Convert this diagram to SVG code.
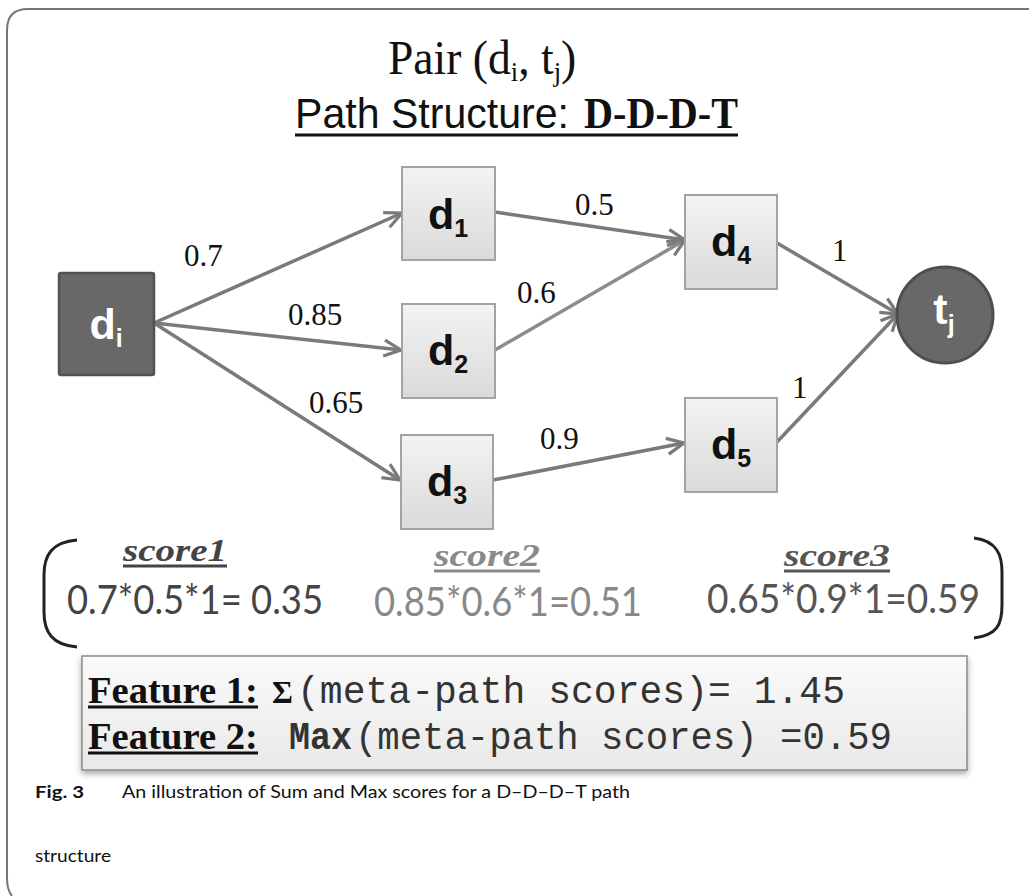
<svg xmlns="http://www.w3.org/2000/svg" width="1029" height="896" viewBox="0 0 1029 896">
<style>
.frame{fill:none;stroke:#777;stroke-width:2}
.lnode{fill:url(#lg);stroke:#a3a3a3;stroke-width:2}
.dnode{fill:#686868;stroke:#515151;stroke-width:2.5}
.lbl{font-family:"Liberation Sans",Arial,sans-serif;font-weight:bold;font-size:43px;fill:#111;text-anchor:middle}
.wl{fill:#fff}
.sub{font-size:25px}
.edge{stroke:#7a7a7a;stroke-width:3.5;fill:none;marker-end:url(#ah)}
.w{font-family:"Liberation Serif","Times New Roman",serif;font-size:31px;fill:#111}
.sc{font-family:"Liberation Serif","Times New Roman",serif;font-weight:bold;font-style:italic;font-size:32px}
.fm{font-family:Lato,"Liberation Sans",sans-serif;font-size:40px}
.mono{font-family:"Liberation Mono","Courier New",monospace;font-size:38px;fill:#333}
.feat{font-family:"Liberation Serif","Times New Roman",serif;font-weight:bold;font-size:37px;fill:#111}
.cap{font-family:Lato,"Open Sans",sans-serif;font-size:17px;fill:#111}
</style>
<defs>
<linearGradient id="lg" x1="0" y1="0" x2="0" y2="1">
<stop offset="0" stop-color="#f3f3f3"/>
<stop offset="1" stop-color="#dadada"/>
</linearGradient>
<linearGradient id="fg" x1="0" y1="0" x2="0" y2="1">
<stop offset="0" stop-color="#fafafa"/>
<stop offset="1" stop-color="#e9e9e9"/>
</linearGradient>
<filter id="sh" x="-5%" y="-10%" width="110%" height="130%">
<feDropShadow dx="0" dy="3" stdDeviation="3" flood-color="#000" flood-opacity="0.35"/>
</filter>
<marker id="ah" viewBox="0 0 22 22" refX="20" refY="11" markerWidth="22" markerHeight="22" markerUnits="userSpaceOnUse" orient="auto">
<path d="M3,3 L20,11 L3,19" fill="none" stroke="#7a7a7a" stroke-width="3.2" stroke-linejoin="miter"/>
</marker>
</defs>
<rect width="1029" height="896" fill="#fff"/>
<path class="frame" d="M1029,9 H28 Q7,9 7,30 V878 Q7,890 12,896"/>

<g id="title">
<g transform="translate(388,74) scale(0.95,1)" font-family="'Liberation Serif','Times New Roman',serif" fill="#111">
<text x="0" y="0" font-size="48">Pair (d<tspan font-size="28" dy="7">i</tspan><tspan dy="-7">, t</tspan><tspan font-size="28" dy="7">j</tspan><tspan dy="-7">)</tspan></text>
</g>
<text x="295" y="128" font-family="'Liberation Sans',Arial,sans-serif" font-size="43" fill="#111" textLength="274" lengthAdjust="spacingAndGlyphs">Path Structure:</text>
<text x="584" y="128" font-family="'Liberation Serif','Times New Roman',serif" font-weight="bold" font-size="44" fill="#111" textLength="154" lengthAdjust="spacingAndGlyphs">D-D-D-T</text>
<line x1="295" y1="135" x2="738" y2="135" stroke="#111" stroke-width="3"/>
</g>

<g id="connectors">
<line class="edge" x1="154" y1="323" x2="402" y2="213"/>
<line class="edge" x1="154" y1="323" x2="401" y2="350"/>
<line class="edge" x1="154" y1="323" x2="400" y2="480"/>
<line class="edge" x1="495" y1="212" x2="685" y2="240"/>
<line class="edge" x1="495" y1="350" x2="685" y2="240" style="stroke:#8c8c8c"/>
<line class="edge" x1="493" y1="480" x2="684" y2="443"/>
<line class="edge" x1="777" y1="243" x2="898" y2="314"/>
<line class="edge" x1="777" y1="442" x2="898" y2="314"/>
<text class="w" x="184" y="266">0.7</text>
<text class="w" x="288" y="325">0.85</text>
<text class="w" x="309" y="413">0.65</text>
<text class="w" x="575" y="215">0.5</text>
<text class="w" x="517" y="303">0.6</text>
<text class="w" x="540" y="449">0.9</text>
<text class="w" x="832" y="261">1</text>
<text class="w" x="792" y="398">1</text>
</g>

<g id="node-di">
<rect class="dnode" x="59" y="273" width="95" height="102" rx="2"/>
<text class="lbl wl" x="106" y="339">d<tspan class="sub" dy="8">i</tspan></text>
</g>
<g id="node-d1">
<rect class="lnode" x="402" y="167" width="93" height="93"/>
<text class="lbl" x="448" y="229">d<tspan class="sub" dy="8">1</tspan></text>
</g>
<g id="node-d2">
<rect class="lnode" x="402" y="304" width="93" height="94"/>
<text class="lbl" x="448" y="365">d<tspan class="sub" dy="8">2</tspan></text>
</g>
<g id="node-d3">
<rect class="lnode" x="401" y="435" width="92" height="94"/>
<text class="lbl" x="447" y="496">d<tspan class="sub" dy="8">3</tspan></text>
</g>
<g id="node-d4">
<rect class="lnode" x="685" y="195" width="92" height="94"/>
<text class="lbl" x="731" y="256">d<tspan class="sub" dy="8">4</tspan></text>
</g>
<g id="node-d5">
<rect class="lnode" x="685" y="398" width="92" height="94"/>
<text class="lbl" x="731" y="459">d<tspan class="sub" dy="8">5</tspan></text>
</g>
<g id="node-tj">
<circle cx="945" cy="315" r="48" fill="#686868" stroke="#4f4f4f" stroke-width="3"/>
<text class="lbl wl" x="944" y="324">t<tspan class="sub" dy="9">j</tspan></text>
</g>

<g id="scores">
<path d="M77,540 C52,542 44,555 44,575 L44,612 C44,632 52,645 77,647" fill="none" stroke="#222" stroke-width="3"/>
<path d="M974,538 C997,541 1002,555 1002,572 L1002,605 C1002,625 997,635 974,638" fill="none" stroke="#222" stroke-width="3"/>
<text class="sc" x="123" y="561" fill="#444" textLength="104" lengthAdjust="spacingAndGlyphs">score1</text>
<line x1="123" y1="566" x2="227" y2="566" stroke="#444" stroke-width="3"/>
<text class="sc" x="434" y="566" fill="#8a8a8a" textLength="106" lengthAdjust="spacingAndGlyphs">score2</text>
<line x1="434" y1="571" x2="540" y2="571" stroke="#8a8a8a" stroke-width="3"/>
<text class="sc" x="784" y="566" fill="#555" textLength="106" lengthAdjust="spacingAndGlyphs">score3</text>
<line x1="784" y1="571" x2="890" y2="571" stroke="#555" stroke-width="3"/>
<text class="fm" x="67" y="614" fill="#444" textLength="256" lengthAdjust="spacingAndGlyphs">0.7*0.5*1= 0.35</text>
<text class="fm" x="374" y="616" fill="#888" textLength="268" lengthAdjust="spacingAndGlyphs">0.85*0.6*1=0.51</text>
<text class="fm" x="707" y="613" fill="#555" textLength="273" lengthAdjust="spacingAndGlyphs">0.65*0.9*1=0.59</text>
</g>

<g id="features">
<rect x="82" y="656" width="885" height="114" fill="url(#fg)" stroke="#8a8a8a" stroke-width="1.5" filter="url(#sh)"/>
<text class="feat" x="88" y="703" textLength="170" lengthAdjust="spacingAndGlyphs">Feature 1:</text>
<line x1="88" y1="707" x2="258" y2="707" stroke="#111" stroke-width="3"/>
<text x="272" y="703" font-family="'Liberation Serif','Times New Roman',serif" font-weight="bold" font-size="32" fill="#111">Σ</text>
<text class="mono" x="297" y="703" textLength="548" lengthAdjust="spacingAndGlyphs">(meta-path scores)= 1.45</text>
<text class="feat" x="88" y="749" textLength="170" lengthAdjust="spacingAndGlyphs">Feature 2:</text>
<line x1="88" y1="753" x2="258" y2="753" stroke="#111" stroke-width="3"/>
<text class="mono" x="289" y="749" font-weight="bold" fill="#111" textLength="63" lengthAdjust="spacingAndGlyphs">Max</text>
<text class="mono" x="355" y="749" textLength="537" lengthAdjust="spacingAndGlyphs">(meta-path scores) =0.59</text>
</g>

<g id="caption">
<text class="cap" x="35" y="798" font-weight="bold" textLength="49" lengthAdjust="spacingAndGlyphs">Fig. 3</text>
<text class="cap" x="122" y="798" textLength="508" lengthAdjust="spacingAndGlyphs">An illustration of Sum and Max scores for a D–D–D–T path</text>
<text class="cap" x="35" y="862" textLength="76" lengthAdjust="spacingAndGlyphs">structure</text>
</g>
</svg>
